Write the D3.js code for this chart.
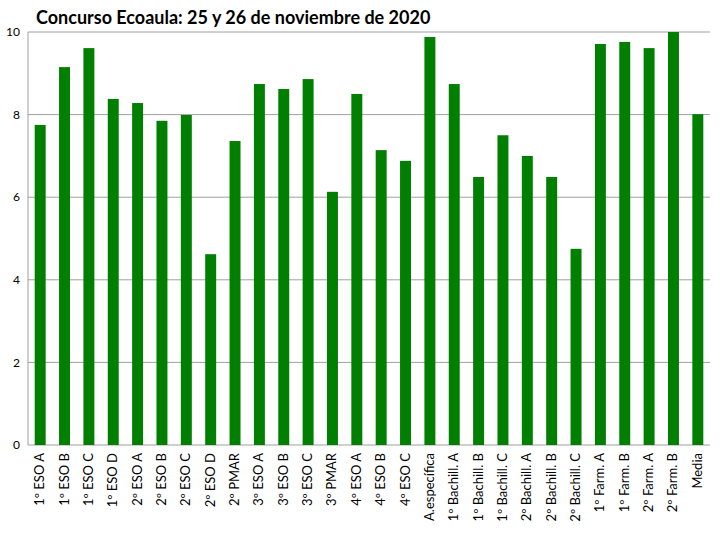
<!DOCTYPE html>
<html><head><meta charset="utf-8">
<script src="https://cdn.jsdelivr.net/npm/d3@7"></script>
<style>body{margin:0;background:#fff;font-family:Lato,"Open Sans",sans-serif}</style>
</head><body><div id="chart"></div>
<script>
// categories and scores
var categories = ['1º ESO A','1º ESO B','1º ESO C','1º ESO D','2º ESO A','2º ESO B','2º ESO C','2º ESO D','2º PMAR',
  '3º ESO A','3º ESO B','3º ESO C','3º PMAR','4º ESO A','4º ESO B','4º ESO C','A.específica',
  '1º Bachill. A','1º Bachill. B','1º Bachill. C','2º Bachill. A','2º Bachill. B','2º Bachill. C',
  '1º Farm. A','1º Farm. B','2º Farm. A','2º Farm. B','Media'];
var values = [7.75,9.15,9.61,8.38,8.28,7.85,7.99,4.62,7.36,8.74,8.62,8.86,6.13,8.5,7.14,6.88,9.88,
  8.74,6.49,7.5,7.0,6.49,4.75,9.71,9.76,9.61,10,8.01];
var yTicks = [0,2,4,6,8,10];

var width = 720, height = 540;
var margin = {top: 32, right: 10, bottom: 95, left: 28};

var svg = d3.select('#chart').append('svg').attr('width', width).attr('height', height);

var x = d3.scaleBand().domain(categories).range([margin.left, width - margin.right]).paddingInner(0.55).paddingOuter(0.275);
var y = d3.scaleLinear().domain([0, 10]).range([height - margin.bottom, margin.top]);

// gridlines
svg.append('g').selectAll('line').data(yTicks).enter().append('line')
  .attr('x1', margin.left).attr('x2', width - margin.right)
  .attr('y1', function(d) { return y(d); }).attr('y2', function(d) { return y(d); })
  .attr('stroke', '#a0a0a0').attr('stroke-width', 1);

// y axis labels
svg.append('g').selectAll('text').data(yTicks).enter().append('text')
  .attr('x', margin.left - 8).attr('y', function(d) { return y(d); }).attr('dy', '.35em')
  .attr('text-anchor', 'end').attr('font-size', 12).text(function(d) { return d; });

// bars
svg.append('g').selectAll('rect').data(values).enter().append('rect')
  .attr('x', function(d, i) { return x(categories[i]); })
  .attr('width', x.bandwidth())
  .attr('y', function(d) { return y(d); })
  .attr('height', function(d) { return y(0) - y(d); })
  .attr('fill', '#007f00');

// axis line
svg.append('line').attr('x1', margin.left).attr('x2', margin.left)
  .attr('y1', y(10)).attr('y2', y(0)).attr('stroke', '#a0a0a0');

// category labels
svg.append('g').selectAll('text').data(categories).enter().append('text')
  .attr('transform', function(d) { return 'translate(' + (x(d) + x.bandwidth() / 2 + 4) + ',' + (y(0) + 8) + ') rotate(-90)'; })
  .attr('text-anchor', 'end').attr('font-size', 13).text(function(d) { return d; });

// title
svg.append('text').attr('x', 36).attr('y', 24).attr('font-size', 18).attr('font-weight', 'bold')
  .text('Concurso Ecoaula: 25 y 26 de noviembre de 2020');
</script></body></html>
